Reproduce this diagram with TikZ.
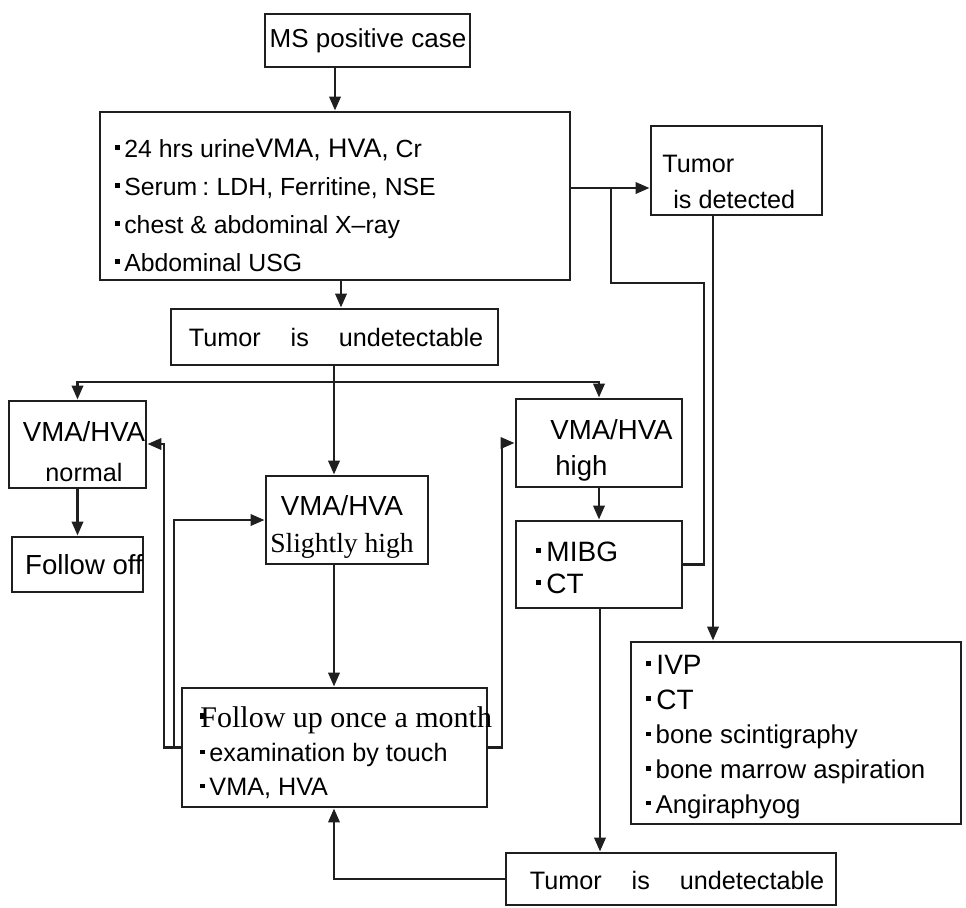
\documentclass[tikz,border=0pt]{standalone}
\usepackage{fontspec}
\setmainfont{Liberation Sans}
\newfontfamily\srf{Liberation Serif}
\usetikzlibrary{arrows.meta,fit}
\newcommand\sq{\raisebox{0.3em}{\rule{0.18em}{0.18em}}\hspace{0.18em}}
\newcommand\fs[2]{\fontsize{#1}{#2}\selectfont}
\begin{document}
\begin{tikzpicture}[x=0.5pt,y=-0.5pt,
  box/.style={draw=black!88, line width=1.4pt, inner sep=0pt},
  txt/.style={inner sep=0pt, align=left},
  ln/.style={draw=black!88, line width=1.4pt},
  arr/.style={draw=black!88, line width=1.4pt, -{Triangle[length=7pt,width=5.6pt]}}]
\useasboundingbox (0,0) rectangle (966,907);
% boxes
\node[box, fit={(265,14) (470,67)}] (ms) {};
\node[box, fit={(100,112) (570,280)}] (big) {};
\node[box, fit={(651,126) (822,215)}] (det) {};
\node[box, fit={(171,309) (498,365)}] (und1) {};
\node[box, fit={(9,401) (146,488)}] (norm) {};
\node[box, fit={(12,537) (143,592)}] (off) {};
\node[box, fit={(266,476) (428,564)}] (slh) {};
\node[box, fit={(182,688) (487,807)}] (fu) {};
\node[box, fit={(516,399) (682,487)}] (high) {};
\node[box, fit={(516,521) (682,608)}] (mibg) {};
\node[box, fit={(631,642) (961,824)}] (ivp) {};
\node[box, fit={(506,853) (836,905)}] (und2) {};
% texts
\node[txt, font=\fs{13}{15}] (ms-t) at (368,41) {MS positive case};
\node[txt, anchor=west, font=\fs{12.4}{19}] (big-t) at (115,205)
  {\sq 24 hrs urine{\fs{13.4}{19}VMA, HVA,} Cr\\
   \sq Serum\hspace{0.2em}:\hspace{0.3em}LDH, Ferritine, NSE\\
   \sq chest \& abdominal X\textendash ray\\
   \sq Abdominal USG};
\node[txt, anchor=west, font=\fs{12.6}{18}] (det-t) at (662,182) {Tumor\\\hspace*{5.5pt}is detected};
\node[txt, font=\fs{12.6}{15}] (und1-t) at (336,337) {Tumor\hspace{15pt}is\hspace{15pt}undetectable};
\node[txt, align=center, font=\fs{13.8}{20}] (norm-t) at (84,452) {VMA/HVA\\{\fs{12.6}{20}normal}};
\node[txt, font=\fs{13.8}{16}] (off-t) at (84,565) {Follow off};
\node[txt, align=center, font=\fs{13.8}{18.5}] (slh-t) at (342,527) {VMA/HVA\\{\srf Slightly high}};
\node[txt, anchor=west, font=\fs{12.6}{17}] (fu-t) at (200,753)
  {{\srf\fs{15}{17}\rlap{\sq}Follow up once a month}\\
   \sq examination by touch\\
   \sq VMA, HVA};
\node[txt, anchor=west, font=\fs{13.8}{18}] (high-t) at (550,450) {VMA/HVA\\\hspace*{2.5pt}high};
\node[txt, anchor=west, font=\fs{14}{16}] (mibg-t) at (536,568) {\sq MIBG\\\sq CT};
\node[txt, anchor=west, font=\fs{12.9}{17.3}] (ivp-t) at (646,737)
  {{\fs{14}{17.3}\sq IVP}\\
   {\fs{14}{17.3}\sq CT}\\
   \sq bone scintigraphy\\
   \sq bone marrow aspiration\\
   \sq Angiraphyog};
\node[txt, font=\fs{12.6}{15}] (und2-t) at (677,880) {Tumor\hspace{15pt}is\hspace{15pt}undetectable};
% helper coordinates
\coordinate (xa) at (335,0);
\coordinate (xb) at (341,0);
\coordinate (xc) at (334,0);
\coordinate (xr) at (600,0);
\coordinate (xd) at (713,0);
\coordinate (yd) at (0,188);
\coordinate (br) at (334,382);
\coordinate (j1) at (704,283);
\coordinate (j2) at (611,188);
\coordinate (fbL) at (164,444);
\coordinate (fbM) at (174,520);
\coordinate (fbR) at (502,443);
% connectors
\draw[arr] (ms.south -| xa) -- (big.north -| xa);
\draw[arr] (big.south -| xb) -- (und1.north -| xb);
\draw[arr] (und1.south -| xc) -- (slh.north -| xc);
\draw[arr] (br) -| (norm.north);
\draw[arr] (br) -| (high.north);
\draw[arr] (norm.south) -- (off.north);
\draw[arr] (slh.south -| xc) -- (fu.north -| xc);
\draw[arr] (high.south) -- (mibg.north);
\draw[arr] (mibg.south -| xr) -- (und2.north -| xr);
\draw[arr] (und2.west) -| (fu.south -| xc);
\draw[arr] (big.east |- yd) -- (det.west |- yd);
\draw[ln] (mibg.east) -| (j1) -| (j2);
\draw[arr] (det.south -| xd) -- (ivp.north -| xd);
\draw[arr] (fu.west) -| (fbL) -- (norm.east |- fbL);
\draw[arr] (fu.west) -| (fbM) -- (slh.west);
\draw[arr] (fu.east) -| (fbR) -- (high.west);
\end{tikzpicture}
\end{document}
